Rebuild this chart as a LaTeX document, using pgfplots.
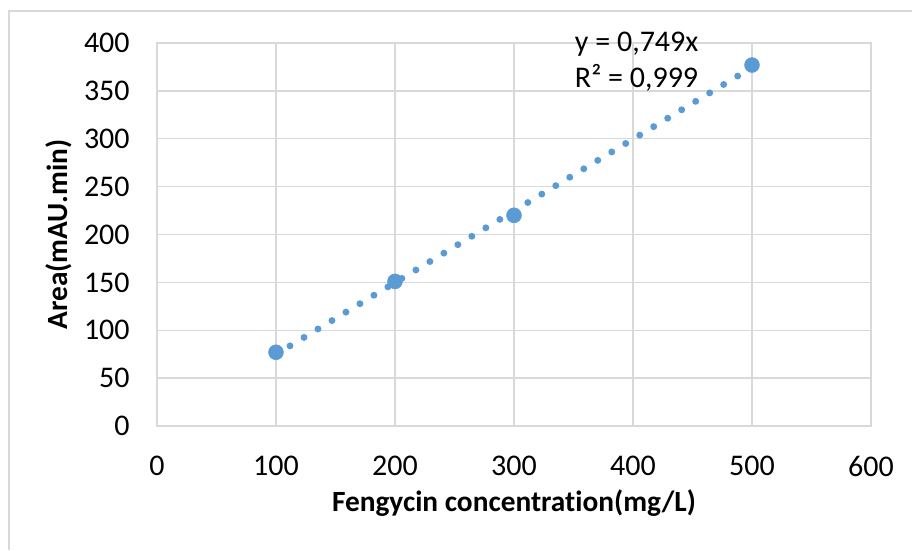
\documentclass[border=0pt]{standalone}
\usepackage{pgfplots}
\pgfplotsset{compat=1.18}
\usepackage{fontspec}
\setmainfont[Ligatures=NoCommon]{Carlito}
\definecolor{exblue}{HTML}{5B9BD5}
\definecolor{grd}{HTML}{D9D9D9}
\begin{document}
\begin{tikzpicture}
\useasboundingbox (0,0) rectangle (684pt,412.5pt);
\draw[grd, line width=1.1pt] (6.75pt,0) -- (6.75pt,404.25pt) -- (684pt,404.25pt);
\begin{axis}[
  at={(117.75pt,93pt)}, anchor=south west,
  scale only axis, width=535.5pt, height=287.25pt,
  xmin=0, xmax=600, ymin=0, ymax=400,
  xtick={0,100,...,600}, ytick={0,50,...,400},
  grid=major, major grid style={grd, line width=1.1pt},
  axis line style={grd, line width=1.1pt},
  major tick length=0pt,
  tick label style={font=\fontsize{22.5}{27}\selectfont},
  /pgf/number format/assume math mode=true,
  xticklabel style={yshift=-19pt},
  yticklabel style={xshift=-17pt},
  xlabel={\textbf{Fengycin concentration(mg/L)}},
  ylabel={\textbf{Area(mAU.min)}},
  label style={font=\fontsize{22}{26}\selectfont},
  xlabel style={yshift=-3pt},
  ylabel style={yshift=2pt},
  clip=false,
]
\addplot[exblue, line width=5.2pt, line cap=round, dash pattern=on 0pt off 12.25pt] coordinates {(100,74.9) (500,374.5)};
\addplot[only marks, mark=*, mark size=5.6pt, color=exblue] coordinates {(100,77) (200,151) (300,220) (500,377)};
\node[anchor=west, align=left, font=\fontsize{22.5}{27}\selectfont, inner sep=0pt] at (axis cs:351,380) {y = 0,749x\\R² = 0,999};
\end{axis}
\end{tikzpicture}
\end{document}
